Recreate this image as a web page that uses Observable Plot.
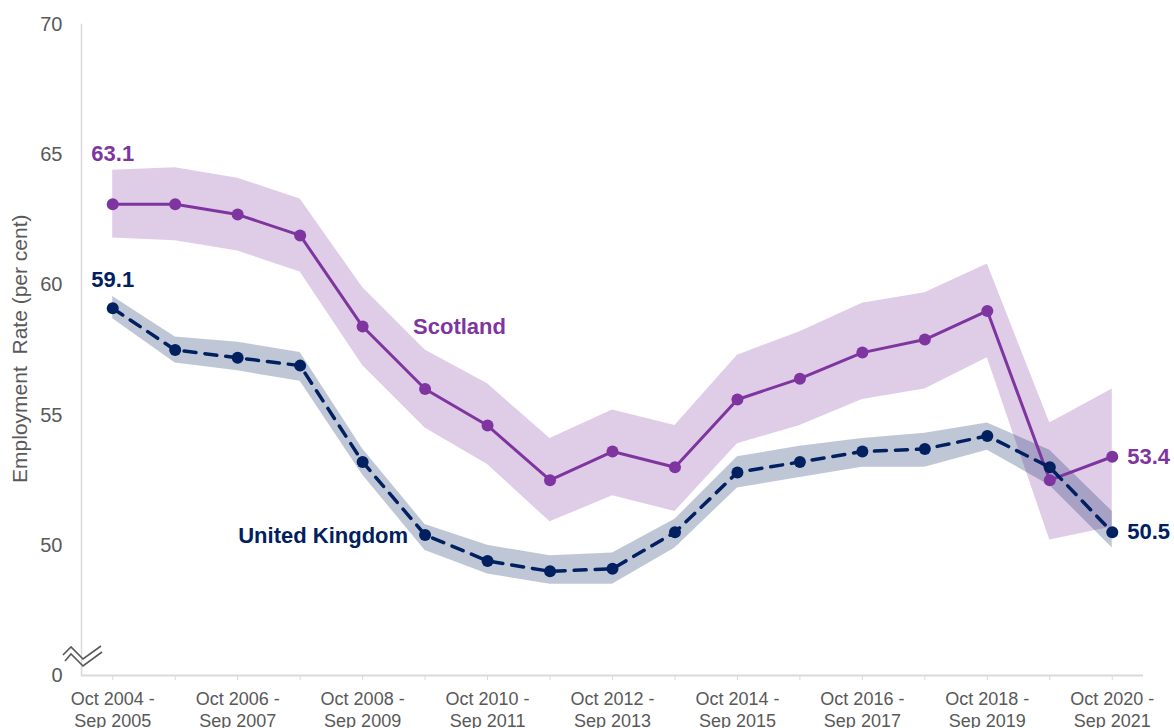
<!DOCTYPE html>
<html>
<head>
<meta charset="utf-8">
<script src="https://cdn.jsdelivr.net/npm/d3@7"></script>
<script src="https://cdn.jsdelivr.net/npm/@observablehq/plot@0.6"></script>
<style>
  html, body { margin: 0; padding: 0; background: #fff; }
  #chart svg { display: block; }
</style>
</head>
<body>
<div id="chart"></div>
<script>
const periods = [
  "Oct 2004 - Sep 2005", "Oct 2005 - Sep 2006", "Oct 2006 - Sep 2007", "Oct 2007 - Sep 2008",
  "Oct 2008 - Sep 2009", "Oct 2009 - Sep 2010", "Oct 2010 - Sep 2011", "Oct 2011 - Sep 2012",
  "Oct 2012 - Sep 2013", "Oct 2013 - Sep 2014", "Oct 2014 - Sep 2015", "Oct 2015 - Sep 2016",
  "Oct 2016 - Sep 2017", "Oct 2017 - Sep 2018", "Oct 2018 - Sep 2019", "Oct 2019 - Sep 2020",
  "Oct 2020 - Sep 2021"
];
const scotland     = [63.1, 63.1, 62.7, 61.9, 58.4, 56.0, 54.6, 52.5, 53.6, 53.0, 55.6, 56.4, 57.4, 57.9, 59.0, 52.5, 53.4];
const scotlandLow  = [61.8, 61.7, 61.3, 60.5, 56.9, 54.5, 53.1, 50.9, 51.9, 51.3, 53.9, 54.6, 55.6, 56.0, 57.2, 50.2, 50.7];
const scotlandHigh = [64.4, 64.5, 64.1, 63.3, 59.9, 57.5, 56.2, 54.1, 55.2, 54.6, 57.3, 58.2, 59.3, 59.7, 60.8, 54.7, 56.0];
const uk           = [59.1, 57.5, 57.2, 56.9, 53.2, 50.4, 49.4, 49.0, 49.1, 50.5, 52.8, 53.2, 53.6, 53.7, 54.2, 53.0, 50.5];
const ukLow        = [58.7, 57.0, 56.7, 56.3, 52.7, 49.8, 48.9, 48.5, 48.5, 49.9, 52.2, 52.6, 53.0, 53.0, 53.65, 52.3, 49.9];
const ukHigh       = [59.55, 58.0, 57.8, 57.4, 53.7, 50.8, 50.0, 49.6, 49.7, 51.0, 53.4, 53.8, 54.1, 54.3, 54.7, 53.65, 51.3];
const yTicks = [45, 50, 55, 60, 65, 70];
const yTickLabels = ["0", "50", "55", "60", "65", "70"];
const yTitle = "Employment\u00A0 Rate (per cent)";

const PURPLE = "#7f35a0";
const NAVY = "#002060";
const GREY_TEXT = "#595959";
const AXIS_GREY = "#d9d9d9";
const FONT = "'Liberation Sans', Arial, sans-serif";

const rows = periods.map((p, i) => ({
  period: p, i,
  scot: scotland[i], scotLo: scotlandLow[i], scotHi: scotlandHigh[i],
  uk: uk[i], ukLo: ukLow[i], ukHi: ukHigh[i]
}));
const last = rows.length - 1;

const plot = Plot.plot({
  width: 1174,
  height: 728,
  marginTop: 24,
  marginRight: 31,
  marginBottom: 53,
  marginLeft: 81,
  style: {fontFamily: FONT, background: "#fff"},
  x: {type: "point", domain: periods, padding: 0.5, round: false},
  y: {domain: [45, 70]},
  marks: [
    Plot.axisY({
      ticks: yTicks,
      tickFormat: d => yTickLabels[yTicks.indexOf(d)],
      tickSize: 0,
      tickPadding: 19,
      fontSize: 20,
      color: GREY_TEXT,
      label: null
    }),
    Plot.axisX({
      tickSize: 5,
      tickPadding: 10,
      fontSize: 18,
      lineHeight: 1.17,
      stroke: AXIS_GREY,
      fill: GREY_TEXT,
      tickFormat: (d) => (periods.indexOf(d) % 2 === 0 ? d.replace(" - ", " -\n") : ""),
      label: null
    }),
    Plot.frame({anchor: "left", stroke: AXIS_GREY, strokeWidth: 1.5}),
    Plot.ruleY([45], {stroke: AXIS_GREY, strokeWidth: 2}),
    Plot.areaY(rows, {x: "period", y1: "scotLo", y2: "scotHi", fill: PURPLE, fillOpacity: 0.25}),
    Plot.areaY(rows, {x: "period", y1: "ukLo", y2: "ukHi", fill: NAVY, fillOpacity: 0.25}),
    Plot.line(rows, {x: "period", y: "scot", stroke: PURPLE, strokeWidth: 3}),
    Plot.dot(rows, {x: "period", y: "scot", r: 6, fill: PURPLE}),
    Plot.line(rows, {x: "period", y: "uk", stroke: NAVY, strokeWidth: 3.5, strokeDasharray: "12,9"}),
    Plot.dot(rows, {x: "period", y: "uk", r: 6, fill: NAVY}),
    Plot.text([rows[0]], {x: "period", y: "scot", text: d => d.scot.toFixed(1), dy: -50, fill: PURPLE, fontSize: 22, fontWeight: "bold"}),
    Plot.text([rows[0]], {x: "period", y: "uk", text: d => d.uk.toFixed(1), dy: -28, fill: NAVY, fontSize: 22, fontWeight: "bold"}),
    Plot.text([rows[last]], {x: "period", y: "scot", text: d => d.scot.toFixed(1), dx: 15, textAnchor: "start", fill: PURPLE, fontSize: 22, fontWeight: "bold"}),
    Plot.text([rows[last]], {x: "period", y: "uk", text: d => d.uk.toFixed(1), dx: 15, textAnchor: "start", fill: NAVY, fontSize: 22, fontWeight: "bold"}),
    Plot.text([{period: periods[5], y: 58.37, t: "Scotland"}], {x: "period", y: "y", text: "t", dx: -12, textAnchor: "start", fill: PURPLE, fontSize: 22, fontWeight: "bold"}),
    Plot.text([{period: periods[5], y: 50.35, t: "United Kingdom"}], {x: "period", y: "y", text: "t", dx: -17, textAnchor: "end", fill: NAVY, fontSize: 22, fontWeight: "bold"}),
    Plot.text([{period: periods[0], y: 57.55, t: yTitle}], {x: "period", y: "y", text: "t", rotate: -90, dx: -92, textAnchor: "middle", fill: GREY_TEXT, fontSize: 21})
  ]
});

// axis-break marker near the bottom of the y axis
const ys = plot.scale("y");
const y0 = ys.apply(45);
const svg = d3.select(plot);
const brk = svg.append("g").attr("fill", "none").attr("stroke", "#595959").attr("stroke-width", 1.6);
brk.append("path").attr("d", `M63,${y0 - 20} L71,${y0 - 28} L83,${y0 - 16} L101,${y0 - 29}`);
brk.append("path").attr("d", `M65,${y0 - 14} L71,${y0 - 21} L83,${y0 - 9} L102,${y0 - 23}`);

document.getElementById("chart").appendChild(plot);
</script>
</body>
</html>
